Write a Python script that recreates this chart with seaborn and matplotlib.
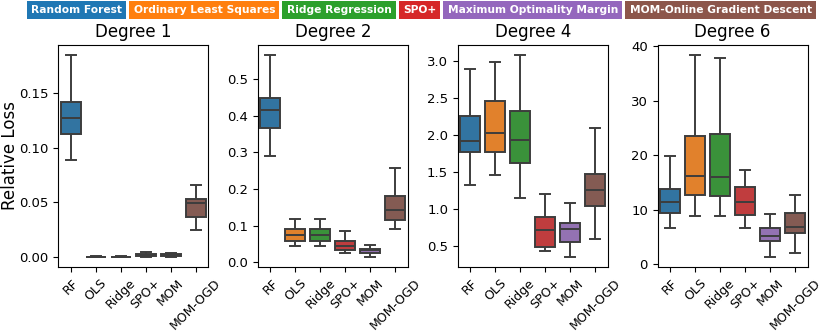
import pandas as pd
import seaborn as sns
import matplotlib.pyplot as plt

# методы и подписи
methods = ['RF', 'OLS', 'Ridge', 'SPO+', 'MOM', 'MOM-OGD']
legend_names = ['Random Forest', 'Ordinary Least Squares', 'Ridge Regression',
                'SPO+', 'Maximum Optimality Margin', 'MOM-Online Gradient Descent']
degrees = ['Degree 1', 'Degree 2', 'Degree 4', 'Degree 6']

# значения: [нижний ус, Q1, медиана, Q3, верхний ус] для каждого метода
deg1 = [[0.0884, 0.1122, 0.1271, 0.1418, 0.1848],
        [0.0000, 0.0001, 0.0002, 0.0003, 0.0004],
        [0.0000, 0.0001, 0.0002, 0.0003, 0.0004],
        [0.0002, 0.0010, 0.0020, 0.0030, 0.0046],
        [0.0003, 0.0010, 0.0018, 0.0025, 0.0040],
        [0.0244, 0.0366, 0.0494, 0.0530, 0.0662]]
deg2 = [[0.290, 0.367, 0.415, 0.449, 0.566],
        [0.046, 0.059, 0.074, 0.091, 0.118],
        [0.046, 0.059, 0.074, 0.091, 0.118],
        [0.025, 0.035, 0.045, 0.059, 0.086],
        [0.015, 0.025, 0.034, 0.037, 0.047],
        [0.091, 0.115, 0.142, 0.180, 0.258]]
deg4 = [[1.327, 1.770, 1.924, 2.263, 2.890],
        [1.458, 1.770, 2.024, 2.457, 2.995],
        [1.151, 1.621, 1.929, 2.331, 3.086],
        [0.423, 0.482, 0.708, 0.889, 1.196],
        [0.346, 0.554, 0.730, 0.812, 1.074],
        [0.586, 1.043, 1.260, 1.477, 2.100]]
deg6 = [[6.55, 9.37, 11.33, 13.80, 19.90],
        [8.80, 12.70, 16.20, 23.60, 38.40],
        [8.80, 12.56, 16.05, 23.80, 37.90],
        [6.68, 9.00, 11.33, 14.15, 17.30],
        [1.29, 4.23, 5.20, 6.68, 9.25],
        [1.96, 5.76, 6.80, 9.37, 12.68]]

all_data = [deg1, deg2, deg4, deg6]

fig, axes = plt.subplots(1, 4, figsize=(8.3, 3.35), dpi=100)
plt.subplots_adjust(left=0.07, right=0.973, bottom=0.203, top=0.866, wspace=0.333)

for ax, title, data in zip(axes, degrees, all_data):
    rows = []
    for m, vals in zip(methods, data):
        for v in vals:
            rows.append({'method': m, 'loss': v})
    df = pd.DataFrame(rows)
    sns.boxplot(data=df, x='method', y='loss', hue='method', palette='tab10',
                whis=(0, 100), linewidth=1.4, ax=ax, legend=False)
    ax.set_title(title, fontsize=12)
    ax.set_xlabel('')
    ax.set_ylabel('')
    ax.tick_params(axis='y', labelsize=9.5)
    ax.tick_params(axis='x', labelsize=9)
    plt.setp(ax.get_xticklabels(), rotation=45)

axes[0].set_ylabel('Relative Loss', fontsize=12)
axes[0].yaxis.set_label_coords(-0.262, 0.5)

# легенда из цветных плашек сверху
colors = sns.color_palette('tab10', 6)
fig.canvas.draw()
renderer = fig.canvas.get_renderer()
x = 31 / 830
for name, c in zip(legend_names, colors):
    t = fig.text(x, 0.97, name, color='white', fontweight='bold', fontsize=7.65,
                 ha='left', va='center',
                 bbox=dict(boxstyle='square,pad=0.4', fc=c, ec='none'))
    fig.canvas.draw()
    bb = t.get_bbox_patch().get_window_extent(renderer)
    x = (bb.x1 + 3 + (bb.x1 - bb.x0 - t.get_window_extent(renderer).width) / 2) / 830

plt.savefig('out.png', dpi=100)
